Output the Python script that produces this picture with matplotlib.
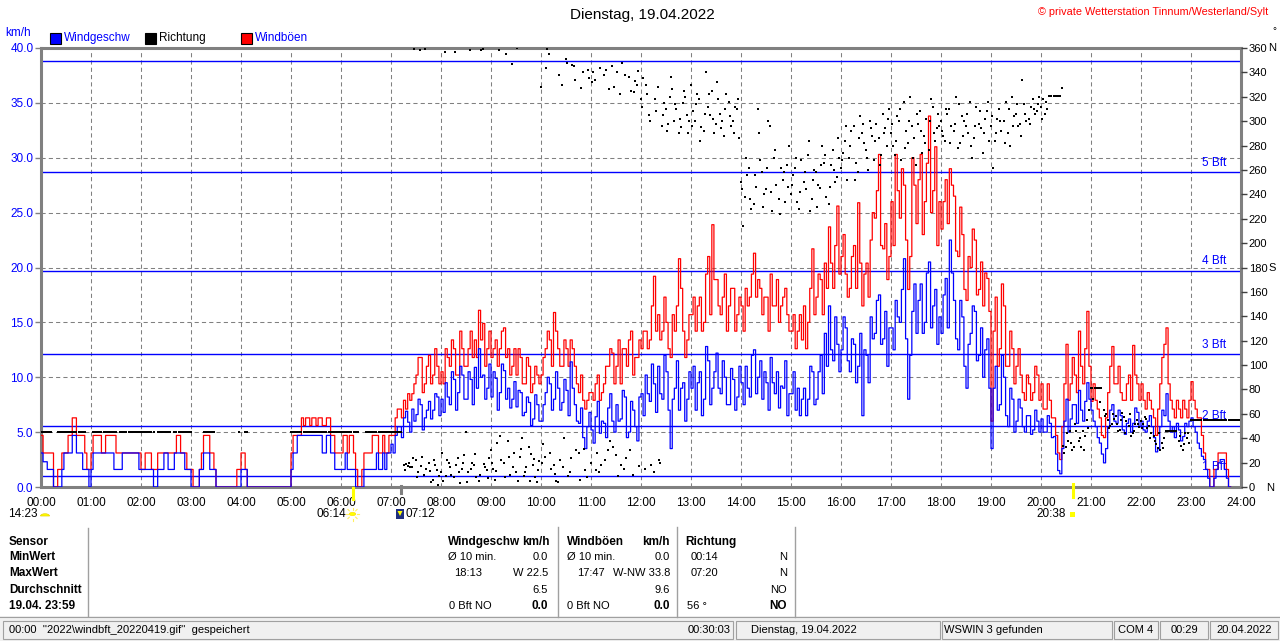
import numpy as np
import matplotlib
matplotlib.use('Agg')
import matplotlib.pyplot as plt
from matplotlib.lines import Line2D
from matplotlib.patches import Rectangle, Circle, Polygon, Wedge

plt.rcParams['font.family'] = ['Liberation Sans', 'DejaVu Sans']

NA = float('nan')

# ---------------- data ----------------
hour_labels = ["%02d:00" % h for h in range(25)]

# wind speed (km/h) at hh:m0 / hh:m5
wind_a_kmh = [
    3.1, 2.3, 1.6, 0, 0, 1.6, 3.1, 3.1, 4.7, 3.1, 1.6, 1.6,
    1.6, 3.1, 3.1, 3.1, 3.1, 3.1, 1.6, 1.6, 3.1, 3.1, 3.1, 3.1,
    1.6, 1.6, 1.6, 0, 1.6, 1.6, 3.1, 1.6, 3.1, 3.1, 3.1, 1.6,
    0, 0, 1.6, 3.1, 3.1, 1.6, 0, 0, 0, 0, 0, 0,
    1.6, 1.6, 0, 0, 0, 0, 0, 0, 0, 0, 0, 0,
    1.6, 3.1, 4.7, 4.7, 4.7, 4.7, 4.7, 4.7, 3.1, 4.7, 3.1, 1.6,
    1.6, 3.1, 1.6, 1.6, 0, 0, 1.6, 1.6, 1.6, 1.6, 3.1, 3.1,
    3.9, 4.7, 5.5, 6.3, 5.9, 7.1, 6.6, 7.5, 6.3, 7.8, 7.0, 8.2,
    8.0, 9.5, 7.5, 9.8, 8.6, 10.2, 8.0, 9.8, 10.9, 12.6, 10.2, 9.0,
    8.2, 9.9, 8.6, 10.6, 9.0, 8.0, 7.3, 8.6, 6.8, 7.7, 6.2, 7.5,
    6.0, 8.6, 9.4, 8.0, 9.0, 7.7, 8.8, 11.4, 7.5, 5.8, 4.5, 5.5,
    5.2, 6.4, 4.9, 5.8, 7.2, 6.0, 7.5, 6.2, 8.2, 5.0, 7.0, 4.2,
    8.5, 10.2, 7.8, 9.4, 11.0, 8.0, 10.5, 3.5, 9.0, 7.0, 9.5, 8.0,
    9.0, 7.0, 10.5, 8.0, 11.5, 9.0, 12.2, 8.5, 10.0, 7.5, 9.8, 8.2,
    9.5, 11.0, 8.2, 12.5, 10.0, 8.0, 9.5, 11.8, 8.5, 7.2, 9.0, 6.5,
    8.5, 7.0, 6.5, 9.0, 8.0, 10.5, 8.0, 12.0, 14.0, 16.5, 11.5, 13.0,
    12.5, 14.5, 10.5, 13.0, 11.0, 6.5, 12.0, 15.5, 14.0, 17.5, 13.5, 11.0,
    14.5, 17.0, 15.0, 20.8, 8.0, 16.0, 14.0, 18.5, 15.0, 20.5, 16.5, 13.0,
    14.0, 19.0, 22.5, 17.0, 12.5, 15.5, 9.0, 14.0, 16.0, 12.0, 10.0, 13.5,
    3.5, 11.0, 7.5, 10.0, 5.5, 8.0, 6.0, 7.2, 5.0, 6.5, 5.2, 6.0,
    6.2, 5.0, 5.8, 4.6, 1.5, 3.5, 8.0, 6.2, 7.5, 8.8, 6.0, 9.5,
    7.0, 5.5, 4.0, 2.2, 5.5, 7.5, 5.8, 6.5, 4.8, 6.2, 5.8, 6.8,
    6.0, 5.0, 6.5, 4.5, 3.5, 7.0, 8.5, 5.0, 4.5, 5.2, 4.6, 5.5,
    6.3, 5.0, 3.5, 2.5, 0.8, 0, 1.6, 2.5, 1.6, 0, NA, NA,
]

# wind speed (km/h) at hh:m2.5 / hh:m7.5
wind_b_kmh = [
    2.3, 1.6, 1.6, 0, 0, 3.1, 3.1, 4.7, 3.1, 3.1, 1.6, 0,
    3.1, 3.1, 3.1, 3.1, 3.1, 1.6, 1.6, 3.1, 3.1, 3.1, 3.1, 1.6,
    1.6, 1.6, 1.6, 0, 1.6, 3.1, 1.6, 1.6, 3.1, 3.1, 1.6, 1.6,
    0, 0, 1.6, 3.1, 1.6, 1.6, 0, 0, 0, 0, 0, 0,
    1.6, 0, 0, 0, 0, 0, 0, 0, 0, 0, 0, 0,
    3.1, 4.7, 4.7, 4.7, 4.7, 4.7, 4.7, 3.1, 4.7, 3.1, 1.6, 1.6,
    1.6, 1.6, 1.6, 0, 0, 1.6, 1.6, 1.6, 3.1, 1.6, 1.6, 3.1,
    3.1, 5.5, 4.5, 6.9, 5.0, 6.0, 8.0, 5.2, 7.0, 6.2, 8.5, 6.5,
    6.8, 8.2, 10.5, 7.0, 11.0, 8.0, 10.5, 7.5, 9.0, 10.0, 8.0, 11.2,
    10.5, 7.0, 11.2, 8.0, 7.2, 9.6, 8.8, 6.5, 8.2, 5.6, 8.4, 6.0,
    7.5, 10.0, 7.0, 10.5, 7.0, 9.8, 6.5, 9.0, 6.0, 7.2, 3.5, 6.8,
    4.0, 7.8, 6.0, 4.5, 8.5, 5.0, 6.0, 8.8, 4.5, 7.8, 5.5, 8.2,
    6.5, 8.5, 11.2, 6.8, 8.5, 12.0, 7.0, 8.0, 11.5, 9.0, 6.0, 10.5,
    11.0, 9.5, 6.5, 12.8, 7.5, 10.5, 9.0, 11.5, 7.5, 10.8, 7.0, 11.0,
    7.5, 9.0, 12.0, 8.5, 11.5, 10.5, 7.0, 9.5, 10.5, 9.2, 11.5, 8.5,
    10.5, 9.0, 8.0, 6.5, 11.0, 7.5, 10.5, 8.5, 11.0, 12.5, 15.5, 10.5,
    15.5, 11.5, 13.5, 9.5, 14.0, 12.5, 9.5, 13.5, 17.0, 13.0, 16.0, 14.5,
    12.5, 15.5, 18.0, 13.5, 12.0, 18.5, 17.0, 14.0, 19.5, 14.5, 18.0, 15.5,
    17.5, 14.5, 19.5, 13.5, 17.0, 11.0, 13.0, 16.5, 11.5, 14.5, 12.5, 9.0,
    9.0, 7.0, 12.0, 6.5, 9.0, 5.0, 8.0, 5.5, 6.5, 4.8, 7.0, 5.0,
    5.0, 6.5, 4.5, 3.0, 1.2, 6.0, 5.0, 7.5, 5.8, 7.0, 7.8, 8.0,
    6.0, 4.5, 3.0, 3.5, 7.0, 6.0, 7.0, 5.2, 5.8, 5.0, 7.2, 5.5,
    5.2, 6.0, 5.5, 3.2, 5.5, 6.5, 6.0, 5.5, 5.8, 4.2, 5.8, 6.0,
    5.5, 4.0, 2.8, 1.6, 0, 0.8, 2.2, 2.5, 0.8, NA, NA, NA,
]

# wind gusts (km/h) at hh:m0 / hh:m5
gust_a_kmh = [
    4.7, 3.1, 3.1, 0, 1.6, 3.1, 3.1, 4.7, 6.3, 4.7, 4.7, 1.6,
    3.1, 4.7, 4.7, 3.1, 4.7, 4.7, 3.1, 3.1, 3.1, 3.1, 3.1, 3.1,
    1.6, 3.1, 3.1, 1.6, 3.1, 3.1, 3.1, 3.1, 3.1, 4.7, 3.1, 1.6,
    1.6, 0, 1.6, 4.7, 4.7, 3.1, 0, 0, 0, 0, 0, 1.6,
    3.1, 1.6, 0, 0, 0, 0, 0, 0, 0, 0, 0, 0,
    3.1, 4.7, 4.7, 5.6, 6.3, 6.3, 5.6, 6.3, 5.6, 6.3, 4.7, 3.1,
    3.1, 4.7, 4.7, 3.1, 0, 1.6, 3.1, 3.1, 4.7, 3.1, 4.7, 3.1,
    4.7, 6.3, 7.1, 7.9, 8.5, 8.5, 10.2, 11.8, 9.4, 12.0, 10.2, 11.0,
    10.5, 12.6, 11.0, 12.6, 10.2, 12.6, 11.0, 14.2, 13.4, 16.1, 14.9, 12.6,
    11.8, 13.4, 12.6, 14.5, 12.6, 11.0, 10.2, 11.8, 9.4, 11.0, 9.4, 10.2,
    10.2, 12.6, 13.4, 15.9, 12.6, 11.0, 12.6, 13.4, 11.0, 8.6, 7.9, 7.9,
    8.6, 9.4, 7.9, 9.4, 11.0, 12.2, 11.0, 9.4, 12.6, 13.4, 10.2, 11.8,
    12.6, 14.2, 13.4, 19.2, 15.7, 14.2, 15.0, 11.8, 14.2, 20.8, 14.2, 13.4,
    15.7, 14.2, 17.3, 15.0, 21.0, 23.9, 18.9, 15.7, 19.4, 16.5, 18.1, 15.7,
    16.5, 18.1, 17.3, 21.3, 18.9, 15.7, 17.3, 19.4, 16.5, 15.0, 17.3, 15.7,
    14.2, 12.6, 15.7, 16.5, 15.0, 21.7, 17.3, 18.9, 20.4, 23.7, 18.1, 25.6,
    21.0, 19.4, 18.1, 22.0, 25.9, 16.5, 20.4, 22.5, 24.5, 30.3, 21.7, 18.9,
    26.0, 30.3, 24.5, 27.5, 18.0, 30.0, 24.0, 30.3, 26.0, 33.8, 27.0, 22.0,
    23.5, 28.0, 29.0, 26.5, 21.0, 23.0, 17.0, 20.0, 22.5, 18.0, 16.5, 19.0,
    6.0, 17.3, 12.6, 16.5, 11.0, 12.6, 11.0, 10.2, 7.9, 9.4, 8.6, 10.2,
    9.4, 7.1, 7.9, 6.3, 3.1, 5.5, 13.0, 9.4, 10.2, 14.2, 9.4, 16.0,
    7.8, 7.9, 6.3, 4.5, 8.6, 12.8, 9.4, 8.6, 7.9, 10.2, 12.9, 9.4,
    9.4, 7.1, 7.9, 6.3, 7.1, 11.8, 14.5, 7.9, 6.3, 7.1, 7.9, 6.3,
    9.6, 7.1, 6.3, 3.1, 1.6, 0, 1.6, 3.1, 3.1, 0, NA, NA,
]

# wind gusts (km/h) at hh:m2.5 / hh:m7.5
gust_b_kmh = [
    3.1, 3.1, 3.1, 0, 1.6, 3.1, 4.7, 6.3, 4.7, 4.7, 3.1, 1.6,
    4.7, 4.7, 3.1, 4.7, 4.7, 4.7, 3.1, 3.1, 3.1, 3.1, 3.1, 3.1,
    1.6, 3.1, 1.6, 1.6, 3.1, 3.1, 3.1, 3.1, 4.7, 3.1, 3.1, 1.6,
    0, 0, 3.1, 4.7, 3.1, 1.6, 0, 0, 0, 0, 0, 1.6,
    3.1, 0, 0, 0, 0, 0, 0, 0, 0, 0, 0, 0,
    4.7, 4.7, 6.3, 6.3, 5.6, 6.3, 6.3, 5.6, 6.3, 4.7, 3.1, 3.1,
    4.7, 3.1, 4.7, 1.6, 0, 3.1, 3.1, 4.7, 4.7, 3.1, 3.1, 4.7,
    4.7, 7.1, 6.3, 7.1, 7.9, 9.4, 11.8, 8.6, 11.0, 9.4, 12.6, 9.4,
    9.4, 11.8, 13.4, 10.2, 14.2, 11.0, 12.6, 11.8, 11.8, 13.4, 11.0, 14.2,
    12.6, 11.0, 14.2, 11.8, 10.2, 12.6, 12.6, 9.4, 11.8, 8.6, 11.0, 9.4,
    11.8, 14.2, 11.0, 14.2, 11.0, 13.4, 11.0, 12.6, 9.4, 10.2, 7.1, 8.6,
    7.9, 10.2, 8.6, 11.0, 12.6, 9.4, 13.4, 12.6, 11.0, 14.2, 11.8, 13.4,
    14.2, 12.6, 16.5, 14.2, 13.4, 17.3, 12.6, 15.7, 16.5, 18.1, 11.8, 15.7,
    17.3, 16.5, 14.2, 19.4, 15.7, 18.9, 16.5, 17.3, 14.2, 18.1, 14.2, 17.3,
    14.2, 16.5, 19.4, 17.3, 18.1, 17.3, 14.2, 16.5, 18.9, 16.5, 18.1, 14.2,
    15.7, 14.2, 13.4, 12.6, 18.1, 15.7, 19.4, 15.7, 18.1, 20.4, 22.0, 19.4,
    23.0, 17.3, 21.0, 18.1, 20.4, 19.4, 17.3, 25.0, 27.0, 22.0, 24.0, 21.0,
    22.0, 27.0, 29.0, 22.5, 21.0, 27.5, 28.0, 23.0, 29.5, 25.0, 31.0, 26.0,
    26.0, 24.0, 27.5, 21.5, 25.5, 18.0, 21.0, 23.5, 17.5, 20.5, 19.5, 16.0,
    14.2, 11.0, 18.5, 11.0, 14.2, 9.4, 12.6, 8.6, 10.2, 7.9, 11.0, 7.9,
    7.1, 9.4, 6.3, 4.7, 2.5, 9.4, 7.9, 11.8, 8.6, 11.0, 12.6, 11.0,
    9.4, 7.1, 4.7, 6.3, 11.0, 9.4, 11.0, 7.9, 9.4, 7.9, 10.2, 7.9,
    7.9, 8.6, 7.1, 4.7, 9.4, 13.0, 9.4, 7.1, 7.9, 6.3, 7.1, 7.9,
    7.9, 6.3, 4.7, 1.6, 0, 1.6, 3.1, 3.1, 1.6, NA, NA, NA,
]

# wind direction (degrees) at hh:m0 / hh:m5
dir_a_deg = [
    45, 45, 45, NA, 45, 45, 45, 45, 45, 45, 45, NA,
    NA, 45, 45, 45, 45, 45, 45, 45, 45, 45, 45, 45,
    45, 45, 45, 45, 45, 45, 45, 45, 45, 45, 45, 45,
    45, NA, NA, 45, 45, 45, NA, NA, NA, NA, NA, NA,
    NA, 45, NA, NA, NA, NA, NA, NA, NA, NA, NA, NA,
    45, 45, 45, 45, 45, 45, 45, 45, 45, 45, 45, 45,
    45, 45, 45, 45, 45, NA, 45, 45, 45, 45, 45, 45,
    45, 45, 45, 18, 17, 16, 22, 358, 10, 20, 6, 14,
    12, 357, 20, 8, 24, 15, 45, 358, 18, 5, 359, 14,
    30, 6, 358, 20, 38, 347, 12, 25, 9, 33, 18, 4,
    328, 25, 355, 18, 4, 330, 351, 12, 345, 28, 340, 8,
    20, 334, 12, 338, 30, 345, 26, 322, 15, 336, 10, 330,
    318, 15, 305, 12, 328, 296, 310, 320, 300, 290, 315, 305,
    330, 300, 318, 292, 312, 325, 298, 306, 288, 316, 300, 310,
    250, 238, 262, 232, 310, 258, 244, 296, 270, 236, 252, 264,
    240, 262, 228, 250, 272, 236, 258, 245, 266, 232, 276, 254,
    262, 284, 270, 296, 258, 290, 276, 300, 268, 286, 306, 280,
    290, 272, 300, 316, 282, 296, 264, 308, 288, 276, 312, 294,
    300, 284, 310, 292, 278, 304, 296, 316, 286, 298, 274, 308,
    296, 284, 310, 300, 290, 320, 306, 298, 314, 302, 318, 308,
    312, 306, 321, 321, 321, 327, 33, 46, 33, 38, 46, 55,
    81, 81, 81, 63, 55, 52, 58, 47, 57, 50, 44, 55,
    54, 57, 50, 42, 32, 36, 46, 46, 46, 38, 30, 40,
    55, 55, 55, 55, 55, 55, 55, 55, 55, 55, 55, 55,
]

# wind direction (degrees) at hh:m2.5 / hh:m7.5
dir_b_deg = [
    45, 45, 45, NA, 45, 45, 45, 45, 45, 45, 45, NA,
    45, 45, 45, 45, 45, 45, NA, 45, 45, 45, 45, 45,
    45, 45, 45, NA, 45, 45, 45, NA, 45, 45, 45, 45,
    NA, NA, NA, 45, 45, 45, NA, NA, NA, NA, NA, 45,
    NA, 45, NA, NA, NA, NA, NA, NA, NA, NA, NA, NA,
    45, 45, 45, 45, 45, 45, 45, 45, 45, 45, 45, 45,
    45, 45, 45, 45, NA, NA, 45, 45, 45, 45, 45, 45,
    45, 45, 45, 19, 16, 359, 12, 25, 15, 4, 18, 9,
    5, 22, 10, 18, 3, 26, 12, 20, 8, 358, 16, 24,
    15, 36, 22, 355, 10, 28, 5, 40, 16, 27, 8, 21,
    35, 359, 15, 5, 22, 40, 9, 346, 30, 327, 14, 335,
    340, 28, 18, 342, 38, 328, 9, 348, 24, 325, 333, 17,
    335, 322, 18, 308, 20, 315, 298, 326, 310, 295, 320, 300,
    308, 322, 295, 340, 305, 290, 318, 300, 322, 296, 312, 286,
    214, 256, 228, 246, 268, 240, 300, 226, 248, 262, 234, 280,
    256, 234, 268, 244, 226, 260, 248, 280, 238, 264, 250, 270,
    274, 252, 292, 266, 304, 282, 260, 288, 298, 272, 294, 310,
    280, 304, 268, 292, 320, 286, 298, 274, 302, 318, 284, 296,
    288, 306, 296, 320, 282, 300, 290, 270, 312, 294, 302, 284,
    262, 302, 292, 316, 280, 304, 296, 334, 300, 312, 306, 320,
    318, 310, 321, 321, 321, 28, 38, 30, 46, 33, 42, 63,
    72, 81, 81, 60, 50, 56, 46, 61, 54, 42, 52, 49,
    52, 48, 44, 35, 30, 40, 46, 46, 46, 34, 44, 36,
    55, 55, 55, 55, 55, 55, 55, 55, 55, 55, 55, 55,
]

# wind direction (degrees) at hh:m1.25 / hh:m6.25 (daytime readings)
dir_c_deg = [
    NA, NA, NA, NA, NA, NA, NA, NA, NA, NA, NA, NA,
    NA, NA, NA, NA, NA, NA, NA, NA, NA, NA, NA, NA,
    NA, NA, NA, NA, NA, NA, NA, NA, NA, NA, NA, NA,
    NA, NA, NA, NA, NA, NA, NA, NA, NA, NA, NA, NA,
    NA, NA, NA, NA, NA, NA, NA, NA, NA, NA, NA, NA,
    NA, NA, NA, NA, NA, NA, NA, NA, NA, NA, NA, NA,
    NA, NA, NA, NA, NA, NA, NA, NA, NA, NA, NA, NA,
    45, 45, 45, 14, 20, 24, 8, 17, 359, 13, 22, 2,
    28, 9, 16, 357, 12, 20, 4, 15, 27, 10, 19, 7,
    20, 13, 42, 8, 25, 16, 360, 31, 12, 5, 23, 14,
    20, 344, 28, 11, 338, 16, 348, 24, 334, 6, 31, 342,
    332, 14, 344, 22, 326, 33, 340, 18, 338, 30, 324, 341,
    312, 330, 300, 318, 22, 305, 292, 336, 314, 302, 325, 290,
    296, 314, 284, 306, 322, 302, 332, 294, 310, 304, 290, 318,
    244, 270, 236, 256, 290, 230, 262, 242, 276, 224, 258, 246,
    248, 270, 242, 258, 284, 252, 230, 264, 272, 246, 260, 286,
    268, 296, 280, 252, 286, 298, 270, 294, 284, 264, 290, 302,
    298, 284, 310, 278, 300, 270, 306, 292, 282, 300, 290, 306,
    292, 310, 282, 298, 314, 288, 306, 280, 296, 308, 290, 316,
    304, 290, 300, 282, 310, 296, 314, 288, 306, 298, 310, 314,
    302, 316, 321, 321, 321, 34, 44, 36, 52, 40, 30, 48,
    81, 81, 70, 58, 48, 60, 52, 55, 44, 60, 46, 52,
    48, 56, 40, 38, 44, 32, 46, 46, 46, 42, 35, 44,
    55, 55, 55, 55, 55, 55, 55, 55, 55, 55, 55, 55,
]

bft_levels = [1.0, 5.6, 12.1, 19.7, 28.7, 38.8]
bft_names = ["1 Bft", "2 Bft", "3 Bft", "4 Bft", "5 Bft", ""]

# ---------------- figure ----------------
W, H = 1280, 641
fig = plt.figure(figsize=(W / 100, H / 100), dpi=100)
fig.patch.set_facecolor('white')

def fx(x):
    return x / W

def fy(y):
    return 1 - y / H

def T(x, y, s, ha='left', va='center', **kw):
    kw.setdefault('fontsize', 8)
    kw.setdefault('color', 'black')
    fig.text(fx(x), fy(y), s, ha=ha, va=va, **kw)

BLUE = '#0000FF'
RED = '#FF0000'
GRAY = '#808080'

ax = fig.add_axes([fx(41), fy(487), 1200 / W, 439 / H])
ax.set_xlim(0, 24)
ax.set_ylim(0, 40)
ax.set_facecolor('white')

for h in range(1, 24):
    ax.axvline(h, color=GRAY, lw=0.75, ls=(0, (4, 3)), zorder=1)
for v in range(5, 40, 5):
    ax.axhline(v, color=GRAY, lw=0.75, ls=(0, (4, 3)), zorder=1)

for lev, name in zip(bft_levels, bft_names):
    ax.axhline(lev, color=BLUE, lw=1.0, zorder=2)
    if name:
        ax.text(23.7, lev + 0.3, name, color=BLUE, fontsize=8.5,
                ha='right', va='bottom', zorder=2)

n = len(wind_a_kmh)
t_a = np.arange(n) / 12.0
t_all = np.empty(2 * n)
t_all[0::2] = t_a
t_all[1::2] = t_a + 1 / 24.0
wind = np.empty(2 * n)
wind[0::2] = np.array(wind_a_kmh, dtype=float)
wind[1::2] = np.array(wind_b_kmh, dtype=float)
gust = np.empty(2 * n)
gust[0::2] = np.array(gust_a_kmh, dtype=float)
gust[1::2] = np.array(gust_b_kmh, dtype=float)

ax.plot(t_all, gust, color=RED, lw=0.9, drawstyle='steps-post', zorder=3)
ax.plot(t_all, wind, color=BLUE, lw=0.9, drawstyle='steps-post', zorder=4)

for s in ax.spines.values():
    s.set_color(GRAY)
    s.set_linewidth(2.2)

ax.set_xticks(range(25))
ax.set_xticklabels(hour_labels)
ax.tick_params(axis='x', length=0, pad=7, labelsize=8.5, labelcolor='black')
ax.set_yticks(np.arange(0, 41, 5))
ax.set_yticklabels(["%.1f" % v for v in np.arange(0, 41, 5)])
ax.tick_params(axis='y', length=4, width=1, color=GRAY, pad=1.5,
               labelsize=8.5, labelcolor=BLUE)

ax2 = ax.twinx()
ax2.set_ylim(0, 360)
ax2.set_yticks(range(0, 361, 20))
ax2.set_yticklabels([str(v) for v in range(0, 361, 20)])
ax2.tick_params(axis='y', length=4, width=1, color='#404040', pad=1.5,
                labelsize=8, labelcolor='black')
for s in ax2.spines.values():
    s.set_visible(False)
for arr, off in [(dir_a_deg, 0.0), (dir_b_deg, 1 / 24.0), (dir_c_deg, 1 / 48.0)]:
    ax2.plot(t_a + off, np.array(arr, dtype=float), ls='none', marker='s',
             ms=2.0, mew=0, color='black', zorder=5)

T(1268, 48, "N", fontsize=8)
T(1268, 268, "S", fontsize=8)
T(1266, 488, "N", fontsize=8)
T(1272, 31, "\u00b0", fontsize=7)

# header
T(642, 15, "Dienstag, 19.04.2022", ha='center', fontsize=11)
T(1268, 12, "\u00a9 private Wetterstation Tinnum/Westerland/Sylt", ha='right',
  fontsize=7.8, color=RED)
T(5, 33, "km/h", fontsize=8.5, color=BLUE)

legend_items = [(50, BLUE, "Windgeschw", BLUE), (145, 'black', "Richtung", 'black'),
                (241, RED, "Windb\u00f6en", BLUE)]
for x0, fc, lab, tc in legend_items:
    fig.patches.append(Rectangle((fx(x0), fy(44)), 11 / W, 11 / H, transform=fig.transFigure,
                                 facecolor=fc, edgecolor='black', lw=0.8))
    T(x0 + 14, 38, lab, fontsize=8.5, color=tc)

def fline(x0, y0, x1, y1, color, lw):
    fig.lines.append(Line2D([fx(x0), fx(x1)], [fy(y0), fy(y1)], transform=fig.transFigure,
                            color=color, lw=lw))

# sun / moon markers
fline(352.5, 488, 352.5, 499, '#FFFF00', 2.2)
fline(1072.5, 484, 1072.5, 497, '#FFFF00', 2.2)
fline(400.5, 486, 400.5, 493, GRAY, 2.2)

T(38, 514, "14:23", ha='right', fontsize=8.5)
fig.patches.append(Wedge((fx(45), fy(516)), 4.5 / W, 0, 180, transform=fig.transFigure,
                         facecolor='#FFFF00', edgecolor='#E8D000', lw=0.5))
T(346, 514, "06:14", ha='right', fontsize=8.5)
fig.patches.append(Circle((fx(352.5), fy(514)), 3.2 / W, transform=fig.transFigure,
                          facecolor='#FFFF00', edgecolor='#FFE000', lw=0.5))
for ang in np.arange(0, 360, 45):
    r0, r1 = 4.5, 6.5
    c, s_ = np.cos(np.radians(ang)), np.sin(np.radians(ang))
    fline(352.5 + r0 * c, 514 + r0 * s_, 352.5 + r1 * c, 514 + r1 * s_, '#FFF060', 0.8)
fig.patches.append(Rectangle((fx(396), fy(519)), 8 / W, 10 / H, transform=fig.transFigure,
                             facecolor='#1F2F7F', edgecolor='none'))
fig.patches.append(Polygon([(fx(397.5), fy(511)), (fx(402.5), fy(511)), (fx(400), fy(516))],
                           closed=True, transform=fig.transFigure, facecolor='#FFFF00',
                           edgecolor='none'))
T(405, 514, "07:12", ha='left', fontsize=8.5)
T(1066, 514, "20:38", ha='right', fontsize=8.5)
fig.patches.append(Rectangle((fx(1070), fy(517)), 5 / W, 5 / H, transform=fig.transFigure,
                             facecolor='#FFFF00', edgecolor='none'))

# ---------------- table ----------------
for xs, y0, y1 in [(88, 528, 616), (558, 527, 617), (677, 527, 617), (795, 527, 617)]:
    fline(xs, y0, xs, y1, '#A0A0A0', 1.0)
fline(0, 617, 1280, 617, '#A0A0A0', 1.0)

rows_y = [542, 557, 573, 590, 606]
for lab, yy in zip(["Sensor", "MinWert", "MaxWert", "Durchschnitt", "19.04. 23:59"], rows_y):
    T(9, yy, lab, fontweight='bold', fontsize=8.5)

T(448, 542, "Windgeschw", fontweight='bold', fontsize=8.5)
T(550, 542, "km/h", ha='right', fontweight='bold', fontsize=8.5)
T(448, 557, "\u00d8 10 min.")
T(548, 557, "0.0", ha='right')
T(454, 573, "18:13")
T(548, 573, "W 22.5", ha='right')
T(548, 590, "6.5", ha='right')
T(449, 606, "0 Bft NO")
T(548, 606, "0.0", ha='right', fontweight='bold', fontsize=8.5)

T(567, 542, "Windb\u00f6en", fontweight='bold', fontsize=8.5)
T(670, 542, "km/h", ha='right', fontweight='bold', fontsize=8.5)
T(567, 557, "\u00d8 10 min.")
T(670, 557, "0.0", ha='right')
T(577, 573, "17:47")
T(670, 573, "W-NW 33.8", ha='right')
T(670, 590, "9.6", ha='right')
T(567, 606, "0 Bft NO")
T(670, 606, "0.0", ha='right', fontweight='bold', fontsize=8.5)

T(685, 542, "Richtung", fontweight='bold', fontsize=8.5)
T(691, 557, "00:14")
T(787, 557, "N", ha='right')
T(691, 573, "07:20")
T(787, 573, "N", ha='right')
T(787, 590, "NO", ha='right')
T(687, 606, "56 \u00b0")
T(787, 606, "NO", ha='right', fontweight='bold', fontsize=8.5)

# ---------------- status bar ----------------
fig.patches.append(Rectangle((0, 0), 1, fy(619), transform=fig.transFigure,
                             facecolor='#F0F0F0', edgecolor='none'))
cells = [(3, 733), (736, 940), (942, 1112), (1114, 1158), (1160, 1208), (1210, 1278)]
for x0, x1 in cells:
    fig.patches.append(Rectangle((fx(x0), fy(639)), (x1 - x0) / W, 18 / H,
                                 transform=fig.transFigure, facecolor='#F0F0F0',
                                 edgecolor='#A0A0A0', lw=0.8))
T(9, 630, "00:00  ''2022\\windbft_20220419.gif''  gespeichert")
T(731, 630, "00:30:03", ha='right')
T(751, 630, "Dienstag, 19.04.2022")
T(944, 630, "WSWIN 3 gefunden")
T(1136, 630, "COM 4", ha='center')
T(1184, 630, "00:29", ha='center')
T(1244, 630, "20.04.2022", ha='center')

fig.savefig('out.png', dpi=100, facecolor='white')
